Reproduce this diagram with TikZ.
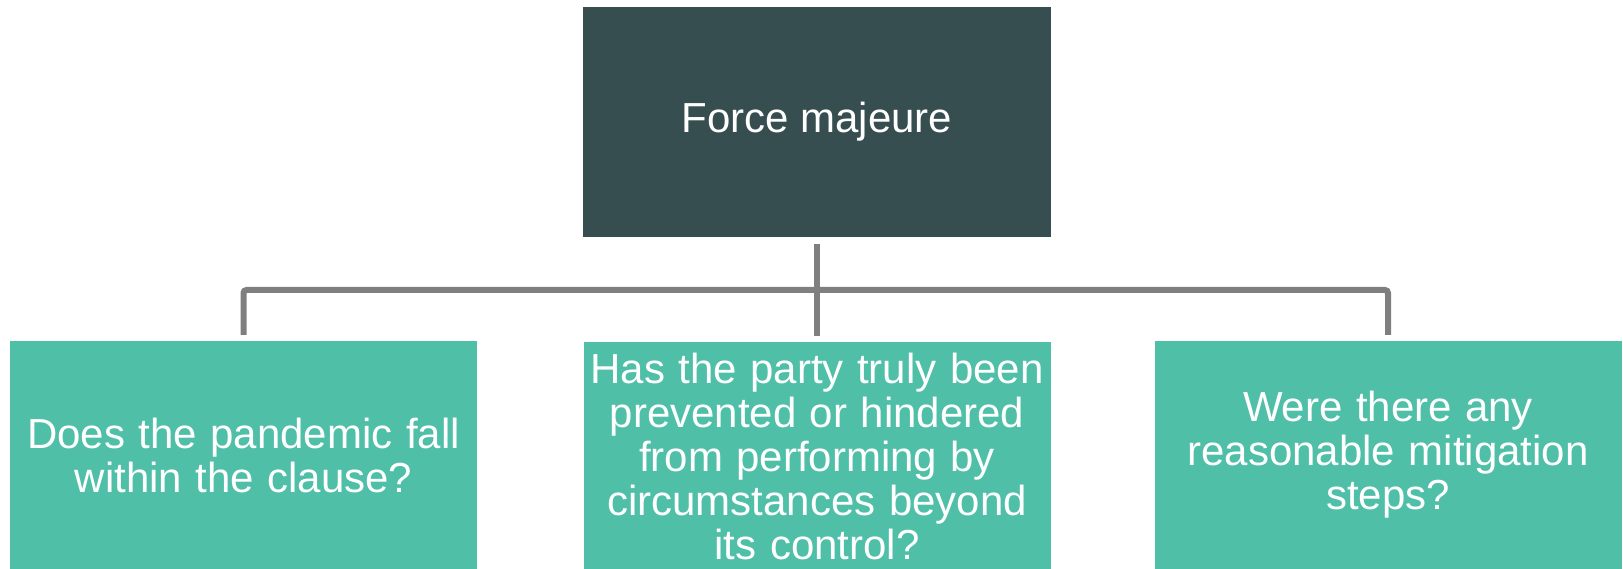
\documentclass[tikz,border=0pt]{standalone}
\usepackage{fontspec}
\setmainfont{Liberation Sans}
\definecolor{topfill}{HTML}{364E4F}
\definecolor{boxfill}{HTML}{4FBFA8}
\definecolor{linegray}{HTML}{7F7F7F}
\newcommand\myqfont{\fontsize{42}{44}\selectfont\spaceskip=0.32em plus 0.1em\relax}
\begin{document}
\begin{tikzpicture}[x=1pt,y=-1pt,
  topbox/.style={fill=topfill,text=white,minimum width=468pt,minimum height=230pt,inner sep=0pt,font=\fontsize{42}{44}\selectfont},
  qbox/.style={fill=boxfill,text=white,minimum width=467pt,minimum height=228pt,inner sep=0pt,align=center,font=\myqfont},
  conn/.style={draw=linegray,line width=6pt}]
\useasboundingbox (0,0) rectangle (1623,569);
\node[topbox] (top) at (817,122) {Force majeure};
\node[qbox] (left) at (243.5,455) {Does the pandemic fall\\within the clause?};
\node[qbox] (mid) at (817,456) {Has the party truly been\\prevented or hindered\\from performing by\\circumstances beyond\\its control?};
\node[qbox] (right) at (1388,455) {Were there any\\reasonable mitigation\\steps?};
\coordinate (hub) at (817,290);
\draw[conn] ([yshift=-7pt]top.south) -- ([yshift=6pt]mid.north);
\draw[conn,rounded corners=3pt] ([yshift=6pt]left.north) |- (hub) -| ([yshift=6pt]right.north);
\end{tikzpicture}
\end{document}
